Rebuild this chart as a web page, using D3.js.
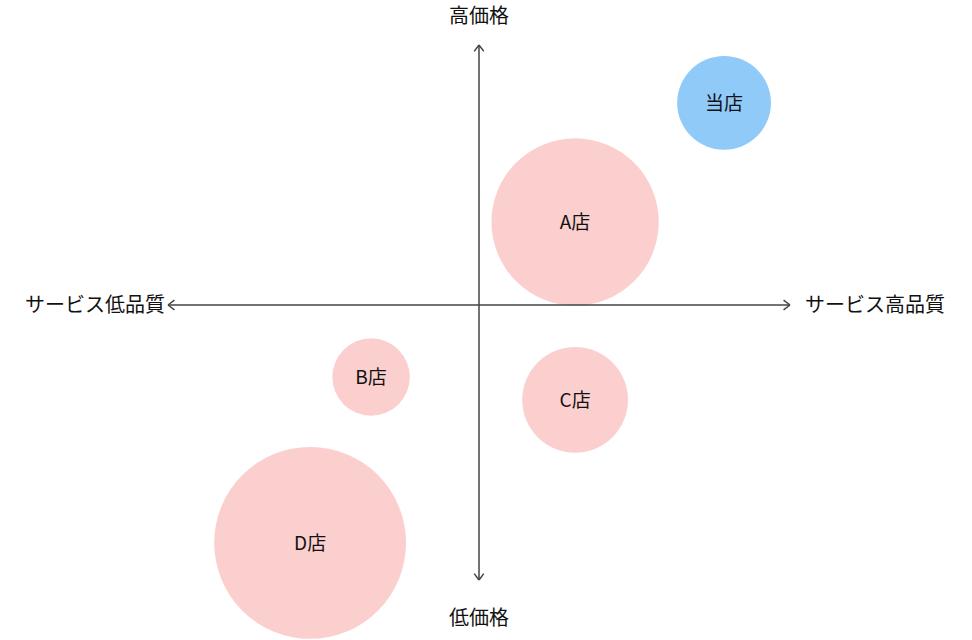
<!DOCTYPE html>
<html><head><meta charset="utf-8">
<script src="https://cdn.jsdelivr.net/npm/d3@7"></script>
<style>body{margin:0;background:#fff}text{font-family:"Noto Sans CJK JP",sans-serif;fill:#111}</style>
</head><body>
<svg id="chart" width="972" height="640"></svg>
<script>
// stores: quality (x), price (y), size
var stores = ["当店", "A店", "B店", "C店", "D店"];
var quality = [78.8, 30.9, -34.7, 30.9, -54.3];
var price = [73.5, 30.2, -26.2, -34.5, -86.5];
var sizes = [22, 70, 15, 28, 92];
var colors = ["#90CAF9", "#FCCFCF", "#FCCFCF", "#FCCFCF", "#FCCFCF"];

var svg = d3.select("#chart");
var x = d3.scaleLinear().domain([-100, 100]).range([168, 790]);
var y = d3.scaleLinear().domain([-100, 100]).range([580, 30]);
var r = d3.scaleSqrt().domain([0, 100]).range([0, 100]);

// bubbles
var data = stores.map((s, i) => ({name: s, q: quality[i], p: price[i], s: sizes[i], c: colors[i]}));
svg.selectAll("circle").data(data).enter().append("circle")
    .attr("cx", d => x(d.q)).attr("cy", d => y(d.p)).attr("r", d => r(d.s))
    .attr("fill", d => d.c);
svg.selectAll("text.lbl").data(data).enter().append("text").attr("class", "lbl")
    .attr("x", d => x(d.q)).attr("y", d => y(d.p)).attr("text-anchor", "middle")
    .attr("dy", "0.35em").style("font-size", "19px").text(d => d.name);

// axes with open arrowheads
function arrow(x1, y1, x2, y2) {
    svg.append("line").attr("x1", x1).attr("y1", y1).attr("x2", x2).attr("y2", y2)
        .attr("stroke", "#444").attr("stroke-width", 1.5);
    var a = Math.atan2(y2 - y1, x2 - x1), L = 8;
    [a + 2.5, a - 2.5].forEach(t => {
        svg.append("line").attr("x1", x2).attr("y1", y2)
            .attr("x2", x2 + L * Math.cos(t)).attr("y2", y2 + L * Math.sin(t))
            .attr("stroke", "#444").attr("stroke-width", 1.5);
    });
}
var cx = x(0), cy = y(0);
arrow(cx, cy, cx, 45); arrow(cx, cy, cx, 580);
arrow(cx, cy, 168, cy); arrow(cx, cy, 790, cy);

svg.append("text").attr("x", cx).attr("y", 16).attr("text-anchor", "middle").attr("dy", "0.35em").style("font-size", "20px").text("高価格");
svg.append("text").attr("x", cx).attr("y", 618).attr("text-anchor", "middle").attr("dy", "0.35em").style("font-size", "20px").text("低価格");
svg.append("text").attr("x", 165).attr("y", cy).attr("text-anchor", "end").attr("dy", "0.35em").style("font-size", "20px").text("サービス低品質");
svg.append("text").attr("x", 805).attr("y", cy).attr("text-anchor", "start").attr("dy", "0.35em").style("font-size", "20px").text("サービス高品質");
</script>
</body></html>
